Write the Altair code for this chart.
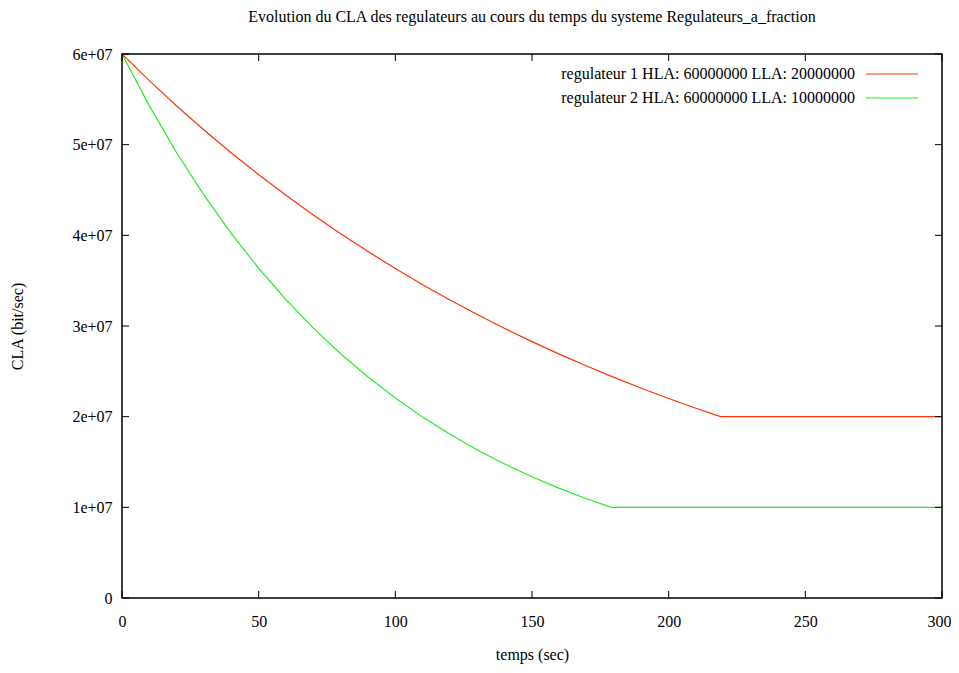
import altair as alt
import pandas as pd

chart_title = "Evolution du CLA des regulateurs au cours du temps du systeme Regulateurs_a_fraction"
x_title = "temps (sec)"
y_title = "CLA (bit/sec)"

series_names = [
    "regulateur 1 HLA: 60000000 LLA: 20000000",
    "regulateur 2 HLA: 60000000 LLA: 10000000",
]
series_colors = ["#ff3300", "#22ee22"]

# regulateur 1
t1 = [0, 10, 20, 30, 40, 50, 60, 70, 80, 90, 100, 110, 120, 130, 140, 150,
      160, 170, 180, 190, 200, 210, 219, 240, 260, 280, 300]
v1 = [60.0e6, 57.06e6, 54.27e6, 51.62e6, 49.09e6, 46.69e6, 44.41e6, 42.24e6,
      40.17e6, 38.21e6, 36.34e6, 34.56e6, 32.87e6, 31.26e6, 29.73e6, 28.28e6,
      26.90e6, 25.58e6, 24.33e6, 23.14e6, 22.01e6, 20.93e6, 20.0e6, 20.0e6,
      20.0e6, 20.0e6, 20.0e6]

# regulateur 2
t2 = [0, 10, 20, 30, 40, 50, 60, 70, 80, 90, 100, 110, 120, 130, 140, 150,
      160, 170, 179, 200, 220, 240, 260, 280, 300]
v2 = [60.0e6, 54.28e6, 49.11e6, 44.43e6, 40.20e6, 36.37e6, 32.91e6, 29.77e6,
      26.94e6, 24.37e6, 22.05e6, 19.95e6, 18.05e6, 16.33e6, 14.77e6, 13.37e6,
      12.09e6, 10.94e6, 10.0e6, 10.0e6, 10.0e6, 10.0e6, 10.0e6, 10.0e6, 10.0e6]

x_ticks = [0, 50, 100, 150, 200, 250, 300]
y_ticks = [0, 10e6, 20e6, 30e6, 40e6, 50e6, 60e6]

W, H = 820, 544
FONT = "Liberation Serif"

df = pd.concat([
    pd.DataFrame({"t": t1, "v": v1, "serie": series_names[0]}),
    pd.DataFrame({"t": t2, "v": v2, "serie": series_names[1]}),
])

xs = alt.Scale(domain=[0, 300], nice=False, zero=False)
ys = alt.Scale(domain=[0, 60e6], nice=False)
x_axis = alt.Axis(values=x_ticks, domain=False, ticks=False, grid=False,
                  labelPadding=15, titlePadding=17, labelFlush=False,
                  labelOffset={"condition": {"test": "datum.value == 300", "value": -3}, "value": 0})
y_axis = alt.Axis(values=y_ticks, domain=False, ticks=False, grid=False,
                  labelPadding=10, titlePadding=46,
                  labelExpr="datum.value == 0 ? '0' : (datum.value / 1e7) + 'e+07'")
X = alt.X("t:Q", scale=xs, title=x_title, axis=x_axis)
Y = alt.Y("v:Q", scale=ys, title=y_title, axis=y_axis)

lines = alt.Chart(df).mark_line(strokeWidth=1.2, clip=True).encode(
    x=X, y=Y,
    color=alt.Color("serie:N", scale=alt.Scale(domain=series_names, range=series_colors), legend=None),
)

xt = pd.DataFrame({"t": x_ticks})
yt = pd.DataFrame({"v": y_ticks})
tick_bottom = alt.Chart(xt).mark_rule(color="black", strokeWidth=1).encode(
    x=X, y=alt.value(H), y2=alt.value(H - 7))
tick_top = alt.Chart(xt).mark_rule(color="black", strokeWidth=1).encode(
    x=X, y=alt.value(0), y2=alt.value(7))
tick_left = alt.Chart(yt).mark_rule(color="black", strokeWidth=1).encode(
    y=Y, x=alt.value(0), x2=alt.value(7))
tick_right = alt.Chart(yt).mark_rule(color="black", strokeWidth=1).encode(
    y=Y, x=alt.value(W), x2=alt.value(W - 7))

frame = alt.Chart(pd.DataFrame({"k": [0]})).mark_rect(
    fill=None, stroke="black", strokeWidth=1.5
).encode(x=alt.value(0), x2=alt.value(W), y=alt.value(0), y2=alt.value(H))

legend_layers = []
for i, (name, col) in enumerate(zip(series_names, series_colors)):
    ld = pd.DataFrame({"name": [name]})
    yy = 20 + 24 * i
    legend_layers.append(
        alt.Chart(ld).mark_text(align="right", baseline="middle", font=FONT,
                                fontSize=16, color="black").encode(
            text="name:N", x=alt.value(733), y=alt.value(yy)))
    legend_layers.append(
        alt.Chart(ld).mark_rule(color=col, strokeWidth=1.2).encode(
            x=alt.value(744), x2=alt.value(796), y=alt.value(yy)))

chart = alt.layer(
    lines, tick_bottom, tick_top, tick_left, tick_right, frame, *legend_layers
).properties(
    width=W, height=H,
    background="white",
    title=alt.Title(chart_title, font=FONT, fontSize=16, fontWeight="normal",
                    anchor="middle", offset=21, color="black"),
    autosize=alt.AutoSizeParams(type="none"),
    padding={"left": 114, "top": 46, "right": 9, "bottom": 66},
).configure_view(
    stroke=None
).configure_axis(
    labelFont=FONT, labelFontSize=16, labelColor="black",
    titleFont=FONT, titleFontSize=16, titleFontWeight="normal", titleColor="black",
)

chart.save("out.html", embed_options={"renderer": "svg", "actions": False})
